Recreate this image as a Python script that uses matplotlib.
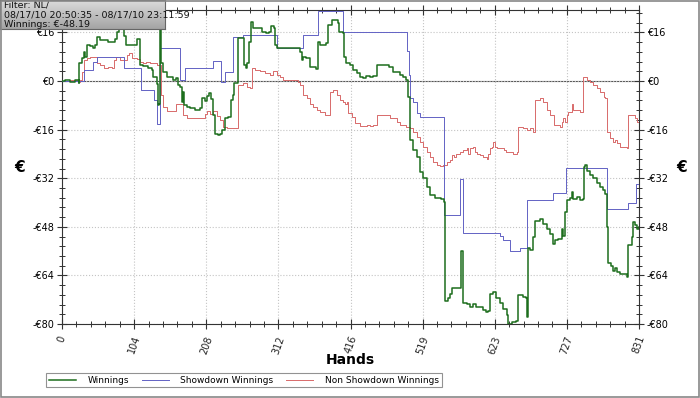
import numpy as np
import matplotlib
matplotlib.use('Agg')
import matplotlib.pyplot as plt
from matplotlib.ticker import MultipleLocator, FixedLocator
from matplotlib.patches import Rectangle
from matplotlib.colors import LinearSegmentedColormap

# values (hand number, euros)
win_hands = [0, 4, 12, 19, 24, 25, 29, 31, 33, 36, 40, 45, 48, 50, 55, 62, 66, 73, 76, 79,
             82, 86, 89, 92, 105, 108, 112, 113, 117, 124, 130, 131, 134, 137, 138, 140, 141,
             143, 145, 151, 156, 160, 164, 167, 170, 173, 174, 176, 180, 184, 192, 199, 202,
             206, 209, 212, 215, 217, 220, 225, 228, 230, 235, 239, 243, 246, 248, 253, 261,
             262, 265, 266, 269, 272, 275, 284, 288, 294, 298, 301, 305, 307, 310, 328, 340,
             343, 346, 347, 351, 357, 361, 366, 369, 372, 380, 383, 389, 395, 397, 399, 405,
             406, 409, 415, 419, 425, 429, 434, 438, 444, 448, 454, 467, 471, 477, 487, 491,
             495, 498, 501, 506, 511, 516, 520, 526, 530, 537, 546, 550, 552, 556, 559, 562,
             570, 574, 575, 576, 577, 583, 588, 592, 596, 602, 606, 611, 614, 616, 621, 625,
             631, 635, 641, 642, 648, 654, 657, 664, 668, 670, 671, 674, 678, 681, 688, 693,
             698, 703, 707, 710, 714, 720, 721, 724, 727, 732, 735, 736, 742, 746, 750, 752,
             753, 756, 760, 765, 770, 775, 779, 782, 785, 786, 791, 794, 796, 799, 804, 808,
             814, 815, 821, 822, 825, 828, 831]
win_vals = [0, 0.5, -0.3, 0.3, -0.5, 6, 7.6, 9.7, 8, 11.9, 11.5, 11, 11.9, 14.6, 13.5, 13.5,
            13, 13, 14, 16.3, 18.5, 18.5, 15, 11.9, 11.9, 14, 12.5, 5.3, 5, 4.3, 3.5, 1.4,
            1.5, -1, -7.9, -7.5, 23, 6, 3, 1.4, 1.4, 0.3, 1, -1.3, -2, -6.8, -3.5, -8, -8.5,
            -9, -9.5, -9, -5.7, -6.5, -5, -4, -6, -11.2, -17.3, -17.7, -17.3, -16, -12.2,
            -11.8, -6.3, -4.6, -0.7, 14.2, 14.2, 5.3, 4.3, 6, 13, 19.6, 17.4, 17.4, 16, 15.7,
            16, 18, 17.4, 11.9, 10.8, 10.8, 10.8, 9.5, 7, 8, 7.5, 4.7, 4.7, 4.1, 13, 12,
            12.5, 18.5, 20.1, 20.1, 19, 16.3, 15.7, 8, 5.8, 5.3, 3.6, 2.6, 1.4, 0.9, 1.6,
            1.4, 1.6, 5.3, 5.3, 4.7, 3.1, 2, 1.2, 0.3, -5.2, -19.5, -22.8, -25, -30, -32,
            -35, -37.5, -38.5, -39, -39.8, -72.3, -71.5, -70, -68.3, -68, -67.5, -55.8,
            -56, -73, -73.5, -74.5, -73.5, -74.5, -74.5, -75.5, -76, -75.8, -70, -69.5,
            -71.5, -73, -75, -77, -80, -79.5, -79, -70.6, -71, -71.6, -77.8, -55, -55.5,
            -51.4, -46, -45.3, -47, -48.8, -50.5, -53.6, -52.5, -52, -48.6, -50.9, -43.1,
            -39.3, -38.5, -36.5, -39, -38.3, -39.3, -39, -28.3, -27.7, -29.5, -31, -32,
            -33.5, -34.9, -36, -37.1, -48.1, -60, -61, -62.4, -61.5, -63, -63.5, -63.5,
            -64.6, -54.1, -51.4, -46.4, -47.5, -48.6, -48.19]

sd_hands = [0, 32, 45, 50, 89, 114, 132, 137, 141, 170, 177, 217, 229, 235, 246, 261, 310,
            347, 369, 405, 412, 497, 500, 501, 506, 511, 516, 550, 573, 577, 631, 635, 645,
            660, 670, 707, 726, 785, 815, 827, 831]
sd_vals = [0, 3.6, 6.4, 8.0, 4.4, -3.0, -6.3, -14.2, 10.8, 0.5, 4.3, 6.6, -0.4, 3.1, 14.6,
           15.2, 10.8, 15.2, 23.2, 16.0, 16.3, 10, 2, -5.7, -7, -10.6, -11.8, -44.2, -32.3,
           -50, -51, -52.5, -55.8, -55, -39.3, -37, -28.5, -42, -40.2, -34, -34]

nsd_hands = [0, 12, 24, 26, 29, 32, 36, 40, 45, 50, 55, 60, 66, 72, 75, 78, 84, 91, 94, 96,
             101, 108, 112, 117, 121, 127, 134, 137, 141, 143, 145, 151, 160, 164, 173, 174,
             180, 189, 203, 206, 209, 213, 217, 223, 228, 232, 238, 252, 253, 261, 266, 271,
             274, 278, 285, 292, 300, 304, 310, 314, 318, 336, 340, 343, 347, 353, 357, 361,
             367, 372, 379, 385, 386, 390, 396, 400, 405, 408, 410, 412, 417, 422, 429, 439,
             444, 448, 453, 468, 472, 482, 487, 496, 501, 506, 511, 516, 520, 525, 530, 535,
             540, 544, 549, 554, 559, 561, 564, 568, 573, 578, 583, 585, 588, 592, 595, 597,
             602, 607, 612, 614, 616, 619, 621, 624, 626, 636, 640, 650, 655, 657, 664, 669,
             674, 679, 681, 688, 693, 698, 703, 708, 717, 720, 722, 724, 727, 729, 734, 736,
             746, 750, 751, 756, 760, 765, 770, 775, 780, 782, 785, 789, 794, 796, 799, 804,
             813, 815, 825, 828, 831]
nsd_vals = [0, 0.3, -0.2, 0.5, 3.1, 7, 7.6, 8, 8, 5.8, 5.3, 4.4, 4.7, 4.4, 7, 8, 7, 7, 8.6,
            9.1, 7.5, 7.3, 6.4, 6, 6.4, 6, 5.8, 5.3, 5.3, -4.6, -8.5, -10, -10, -7.4, -7.5,
            -11.2, -12.3, -12.3, -12, -10.7, -10, -10.8, -10, -11.5, -12.9, -15.1, -15.6,
            -15.6, -1.3, -0.8, -1.8, -2.4, 4.2, 3.5, 3.3, 2.7, 2, 3.3, 2, 1.5, 0.3, 0.3,
            -0.3, -1.3, -4.6, -5.5, -7.4, -8.5, -9.6, -10.1, -11.2, -11.2, -3.5, -3, -4.5,
            -6.3, -7, -7.5, -6.8, -10.6, -11.7, -13.9, -14.7, -14.5, -14.7, -14.5, -11.2,
            -11.2, -12.3, -13.4, -14.5, -15, -15.6, -16.7, -18.4, -20, -21.7, -23.3, -25,
            -26.6, -27.7, -28, -27.7, -26.6, -26, -24.4, -25, -23.9, -23.3, -22.8, -22.2,
            -23.9, -22.2, -21.7, -23.3, -23.9, -24.4, -25, -25.7, -23.9, -22.2, -21.7, -20,
            -21.7, -22.2, -22.8, -23.3, -23.9, -23.3, -15.1, -15.6, -16.1, -15.6, -16.7,
            -6.3, -5.7, -6.8, -9.6, -11.2, -14.5, -15, -13.4, -12.3, -13.4, -11.2, -10.1,
            -7.4, -9.6, -10.1, 0.3, 1.2, 0.3, -0.2, -1.3, -2.4, -3.5, -5.2, -5.7, -16.7,
            -18.9, -20, -19.5, -20.5, -21.7, -22.2, -11.2, -12.3, -13.4, -14.2]

x_ticks = np.linspace(0, 831, 9)
y_ticks = [-80, -64, -48, -32, -16, 0, 16]
info_lines = ['Filter: NL/', '08/17/10 20:50:35 - 08/17/10 23:11:59', 'Winnings: €-48.19']


def euro(v):
    return '€%d' % v if v >= 0 else '-€%d' % -v


fig = plt.figure(figsize=(7.0, 3.98), dpi=100)
ax = fig.add_axes([62 / 700, 1 - 324 / 398, 577 / 700, 314 / 398])

ax.axhline(0, color='#555555', lw=0.8, zorder=1)
ax.plot(nsd_hands, nsd_vals, color='#d86a6a', lw=0.7, drawstyle='steps-post',
        label='Non Showdown Winnings', zorder=2)
ax.plot(sd_hands, sd_vals, color='#6262c4', lw=0.7, drawstyle='steps-post',
        label='Showdown Winnings', zorder=3)
ax.plot(win_hands, win_vals, color='#1d6e1d', lw=1.1, drawstyle='steps-post',
        label='Winnings', zorder=4)

ax.set_xlim(0, 831)
ax.set_ylim(-80, 23.4)
ax.set_xticks(x_ticks)
ax.set_xticklabels(['%d' % round(t) for t in x_ticks], rotation=70, fontsize=7,
                   ha='center', va='top', color='#222222')
ax.xaxis.set_minor_locator(MultipleLocator(831 / 40))
ax.set_yticks(y_ticks)
ax.set_yticklabels([euro(v) for v in y_ticks], fontsize=7)
ax.yaxis.set_minor_locator(FixedLocator(np.arange(-80, 23.4, 3.2)))
ax.tick_params(which='both', direction='inout', top=True, right=True,
               labelright=True, color='#333333')
ax.tick_params(which='major', length=7, width=0.8, pad=2)
ax.tick_params(which='minor', length=4, width=0.7)
ax.tick_params(axis='x', pad=4)
ax.grid(True, which='major', color='#c4c4c4', ls=':', lw=0.8)
for s in ax.spines.values():
    s.set_color('#333333')
    s.set_linewidth(0.8)

fig.text(350 / 700, 1 - 360 / 398, 'Hands', fontsize=10, fontweight='bold',
         ha='center', va='center')
fig.text(20 / 700, 1 - 167 / 398, '€', fontsize=11, fontweight='bold',
         ha='center', va='center')
fig.text(682 / 700, 1 - 167 / 398, '€', fontsize=11, fontweight='bold',
         ha='center', va='center')

h, l = ax.get_legend_handles_labels()
order = [2, 1, 0]
leg = fig.legend([h[i] for i in order], [l[i] for i in order], ncol=3,
                 loc='upper left', bbox_to_anchor=(46 / 700, 1 - 373 / 398),
                 fontsize=6.5, frameon=True, fancybox=False, borderpad=0.3,
                 handlelength=3.0, handletextpad=1.3, columnspacing=1.4,
                 borderaxespad=0)
leg.get_frame().set_edgecolor('#777777')
leg.get_frame().set_linewidth(0.8)

# info box with grey gradient
bx = fig.add_axes([0, 1 - 29 / 398, 165 / 700, 29 / 398])
grey_cmap = LinearSegmentedColormap.from_list('box', ['#dcdcdc', '#a4a4a4'])
grad = np.linspace(0, 1, 50).reshape(-1, 1)
bx.imshow(grad, aspect='auto', cmap=grey_cmap, extent=[0, 1, 0, 1], origin='upper')
bx.set_xlim(0, 1)
bx.set_ylim(0, 1)
bx.set_xticks([])
bx.set_yticks([])
for s in bx.spines.values():
    s.set_color('#666666')
    s.set_linewidth(0.8)
for i, t in enumerate(info_lines):
    bx.text(0.025, 0.82 - i * 0.33, t, fontsize=6.8, va='center', ha='left', color='#111111')

fig.patches.append(Rectangle((0.001, 0.002), 0.997, 0.995, transform=fig.transFigure,
                             fill=False, edgecolor='#888888', lw=1.2))

fig.savefig('out.png', dpi=100)
